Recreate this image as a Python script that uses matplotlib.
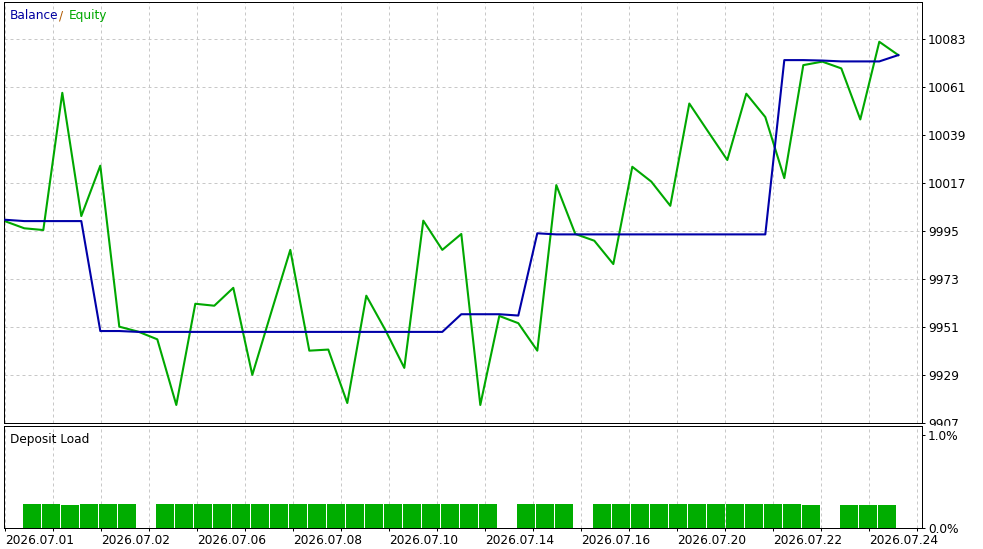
import numpy as np
import matplotlib.pyplot as plt
from matplotlib.patches import Rectangle

# balance / equity per trade step
balance = [10000.0, 9999.4, 9999.4, 9999.4, 9999.4, 9949.0, 9949.0, 9948.6,
           9948.6, 9948.6, 9948.6, 9948.6, 9948.6, 9948.6, 9948.6, 9948.6,
           9948.6, 9948.6, 9948.6, 9948.6, 9948.6, 9948.6, 9948.6, 9948.6,
           9956.7, 9956.7, 9956.7, 9956.1, 9993.8, 9993.3, 9993.3, 9993.3,
           9993.3, 9993.3, 9993.3, 9993.3, 9993.3, 9993.3, 9993.3, 9993.3,
           9993.3, 10073.2, 10073.2, 10073.0, 10072.6, 10072.6, 10072.6, 10075.5]
equity = [9999.3, 9996.1, 9995.3, 10058.2, 10001.7, 10024.8, 9951.0, 9948.7,
          9945.2, 9915.1, 9961.5, 9960.6, 9968.8, 9928.9, 9957.7, 9986.2,
          9940.0, 9940.5, 9916.0, 9965.2, 9949.5, 9932.1, 9999.6, 9986.2,
          9993.5, 9915.1, 9955.9, 9952.6, 9940.0, 10015.9, 9993.5, 9990.4,
          9979.7, 10024.3, 10017.5, 10006.4, 10053.3, 10040.3, 10027.4, 10057.8,
          10047.1, 10019.1, 10070.9, 10072.5, 10069.4, 10046.0, 10081.6, 10075.5]
# deposit load in %, one bar per interval between steps
load = [0.26, 0.26, 0.25, 0.26, 0.26, 0.26, 0, 0.26, 0.26, 0.26, 0.26, 0.26,
        0.26, 0.26, 0.26, 0.26, 0.26, 0.26, 0.26, 0.26, 0.26, 0.26, 0.26, 0.26,
        0.26, 0, 0.26, 0.26, 0.26, 0, 0.26, 0.26, 0.26, 0.26, 0.26, 0.26,
        0.26, 0.26, 0.26, 0.26, 0.26, 0.25, 0, 0.25, 0.25, 0.25]

y_ticks = [9907, 9929, 9951, 9973, 9995, 10017, 10039, 10061, 10083]
date_labels = ['2026.07.01', '2026.07.02', '2026.07.06', '2026.07.08', '2026.07.10',
               '2026.07.14', '2026.07.16', '2026.07.20', '2026.07.22', '2026.07.24']

plt.rcParams['font.family'] = 'DejaVu Sans'
plt.rcParams['font.size'] = 8.7

W, H = 983, 549
fig = plt.figure(figsize=(W / 100, H / 100), dpi=100)


def px_box(l, t, r, b):
    return [l / W, 1 - b / H, (r - l) / W, (b - t) / H]


ax = fig.add_axes(px_box(4.3, 2.3, 921.7, 423.3))
ax2 = fig.add_axes(px_box(4.3, 425.7, 921.7, 528.3), zorder=2)

steps = np.arange(len(equity))
xlim = (-1 / 19, 916.4 / 19)
grid_x = np.arange(20) * 48 / 19
grid_style = dict(color='#c8c8c8', linestyle=(0, (3, 3)), linewidth=0.72)

# main panel
ax.plot(steps, equity, color='#00a800', lw=1.5, zorder=2)
ax.plot(steps, balance, color='#0000a8', lw=1.5, zorder=3)
ax.set_xlim(*xlim)
ax.set_ylim(9906.7, 10099.7)
ax.set_xticks(grid_x)
ax.set_yticks(y_ticks)
ax.yaxis.tick_right()
ax.tick_params(axis='y', direction='out', length=2.2, width=0.72, pad=2.2)
ax.tick_params(axis='x', bottom=False, labelbottom=False)
ax.grid(True, **grid_style)
ax.set_axisbelow(True)

ax.annotate('Balance', xy=(0, 1), xycoords='axes fraction', xytext=(5.5, -17),
            textcoords='offset pixels', color='#0000a0', va='baseline')
ax.annotate('/', xy=(0, 1), xycoords='axes fraction', xytext=(55, -17),
            textcoords='offset pixels', color='#b05a00', va='baseline')
ax.annotate('Equity', xy=(0, 1), xycoords='axes fraction', xytext=(64.5, -17),
            textcoords='offset pixels', color='#00a800', va='baseline')

# hide the part of the lowest y label that runs into the lower panel
fig.patches.append(Rectangle((921.7 / W, 0), 1, (H - 425.7) / H,
                             transform=fig.transFigure, color='white', zorder=1))

# deposit load panel
ax2.bar(np.arange(len(load)) + 0.916, load, width=0.963, align='edge',
        color='#00ad00', zorder=2)
ax2.set_xlim(*xlim)
ax2.set_ylim(0, 1.096)
ax2.set_yticks([0, 1.0], ['0.0%', '1.0%'])
ax2.yaxis.tick_right()
ax2.tick_params(axis='y', direction='out', length=2.2, width=0.72, pad=2.2)
xlabels = []
for k in range(len(grid_x)):
    xlabels.append(date_labels[k // 2] if k % 2 == 0 else '')
ax2.set_xticks(grid_x, xlabels, ha='left')
ax2.tick_params(axis='x', direction='out', length=2.5, width=0.72, pad=1.5)
ax2.grid(True, axis='x', **grid_style)
ax2.set_axisbelow(True)
ax2.annotate('Deposit Load', xy=(0, 1), xycoords='axes fraction', xytext=(6, -17),
             textcoords='offset pixels', color='black', va='baseline')

for a in (ax, ax2):
    for s in a.spines.values():
        s.set_linewidth(0.72)
        s.set_color('black')

fig.savefig('out.png', dpi=100)
